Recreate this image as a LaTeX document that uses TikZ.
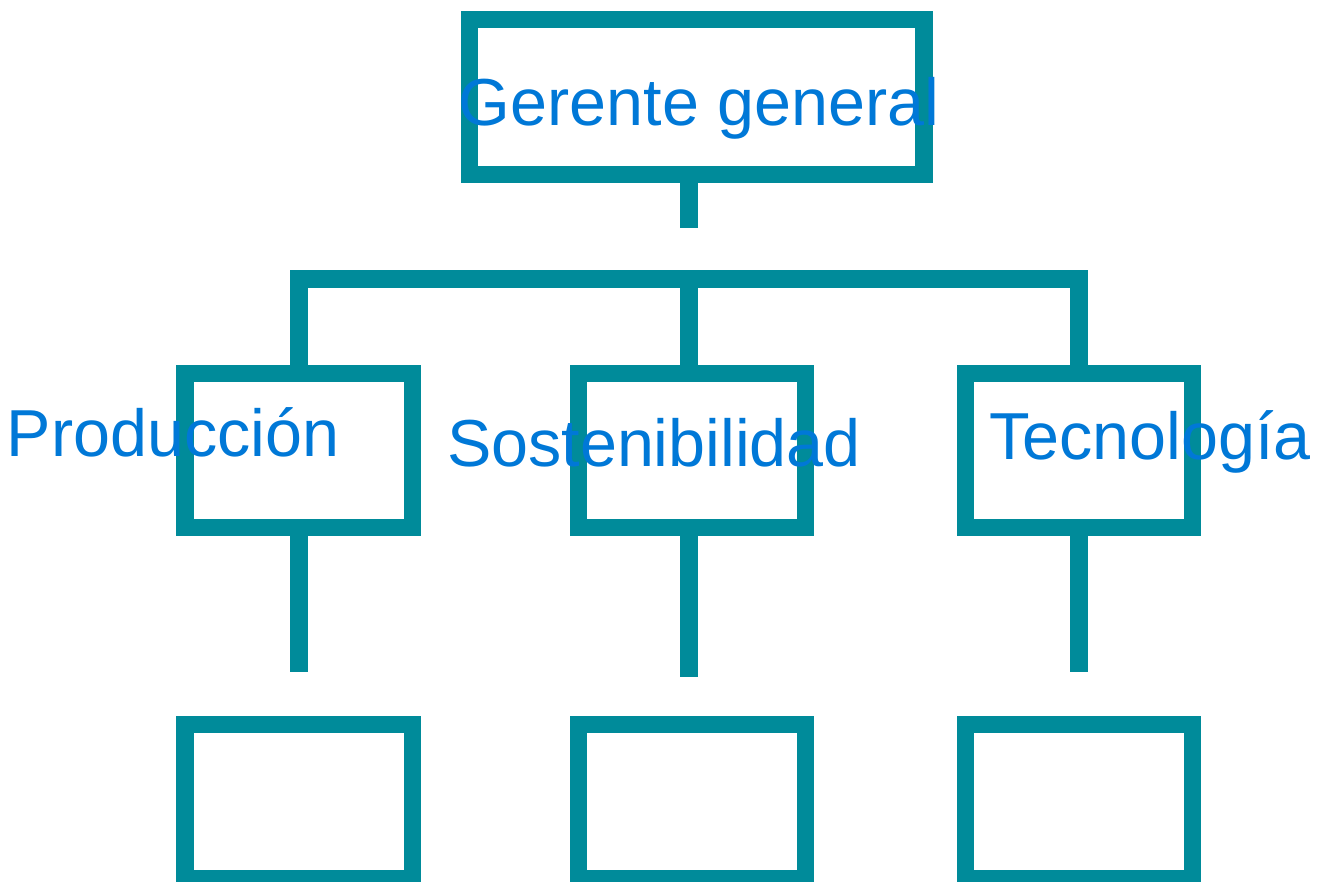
\documentclass[tikz,border=0pt]{standalone}
\usepackage{fontspec}
\setmainfont{Liberation Sans}
\usetikzlibrary{positioning}
\definecolor{orgteal}{RGB}{0,139,154}
\definecolor{orgblue}{RGB}{0,120,215}
\tikzset{%
unit/.style={draw=orgteal,line width=0.175cm,rectangle,minimum width=2.27cm,minimum height=1.54cm,inner sep=0},
topunit/.style={unit,minimum width=4.545cm,minimum height=1.545cm},
link/.style={draw=orgteal,line width=0.175cm},
unitname/.style={font=\fontsize{18.9}{22}\selectfont,text=orgblue,inner sep=0,anchor=base}
}
\begin{document}
\begin{tikzpicture}[x=0.01cm,y=-0.01cm]

    \useasboundingbox (0,0) rectangle (1330,881);

    \node[topunit] (gg) at (696.75,97) {};
    \node[unit] (prod) at (298.75,450.5) {};
    \node[unit] (sost) at (692,450.5) {};
    \node[unit] (tec) at (1078.9,450.5) {};
    \node[unit] (prodsub) at (298.75,801.5) {};
    \node[unit] (sostsub) at (692,801.5) {};
    \node[unit] (tecsub) at (1078.9,801.5) {};

    \coordinate (ggend) at (689,228);
    \coordinate (bar) at (689,279);
    \coordinate (prodend) at (298.75,672);
    \coordinate (sostend) at (689,677);
    \coordinate (tecend) at (1078.9,672);

    \path[link] (gg.south -| ggend) -- (ggend);
    \path[link] (prod.north) |- (bar) -| (tec.north);
    \path[link] (bar) -- (bar |- sost.north);
    \path[link] (prod.south) -- (prodend);
    \path[link] (sost.south -| sostend) -- (sostend);
    \path[link] (tec.south) -- (tecend);

    \node[unitname] (ggname) at (699,125) {Gerente general};
    \node[unitname] (prodname) at (173,456) {Producción};
    \node[unitname] (sostname) at (654,466) {Sostenibilidad};
    \node[unitname] (tecname) at (1150,459) {Tecnología};

  \end{tikzpicture}
\end{document}
